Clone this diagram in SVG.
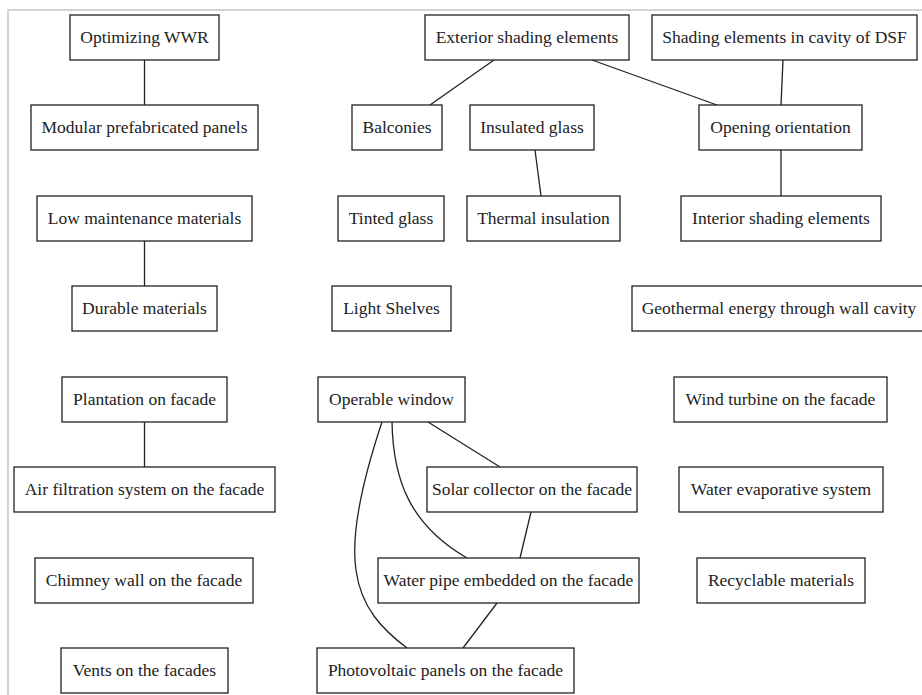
<svg xmlns="http://www.w3.org/2000/svg" width="922" height="695" viewBox="0 0 922 695">
<style>
.n rect{fill:#fff;stroke:#222;stroke-width:1.3}
.n text{font-size:17.5px;fill:#222;text-anchor:middle}
.e path{fill:none;stroke:#222;stroke-width:1.3}
</style>
<rect x="0" y="0" width="922" height="695" fill="#fff"/>
<path d="M8,695 V10 H922" fill="none" stroke="#d4d4d4" stroke-width="2"/>
<g class="e" id="edges">
<path d="M144.5,60 V105"/>
<path d="M144.5,241 V286"/>
<path d="M144.5,422 V467"/>
<path d="M494,60 L430,105"/>
<path d="M592,60 L717,105"/>
<path d="M783,60 L781,105"/>
<path d="M781,150 V196"/>
<path d="M535,150 L541,196"/>
<path d="M428,422 L500,467"/>
<path d="M392,422 C393,480 410,525 467,558"/>
<path d="M382,422 C366,470 350,530 356,570 C361,608 383,630 407,648"/>
<path d="M531,512 L520,558"/>
<path d="M497,603 L463,648"/>
</g>
<g id="nodes" font-family="Liberation Serif, serif">
<g class="n" id="n_wwr"><rect x="70" y="15" width="149" height="45"/><text x="144.5" y="43">Optimizing WWR</text></g>
<g class="n" id="n_modular"><rect x="31" y="105" width="227" height="45"/><text x="144.5" y="133">Modular prefabricated panels</text></g>
<g class="n" id="n_lowmaint"><rect x="37" y="196" width="215" height="45"/><text x="144.5" y="224">Low maintenance materials</text></g>
<g class="n" id="n_durable"><rect x="72" y="286" width="145" height="45"/><text x="144.5" y="314">Durable materials</text></g>
<g class="n" id="n_plant"><rect x="62" y="377" width="165" height="45"/><text x="144.5" y="405">Plantation on facade</text></g>
<g class="n" id="n_airfilt"><rect x="14" y="467" width="261" height="45"/><text x="144.5" y="495">Air filtration system on the facade</text></g>
<g class="n" id="n_chimney"><rect x="35" y="558" width="218" height="45"/><text x="144" y="586">Chimney wall on the facade</text></g>
<g class="n" id="n_vents"><rect x="61" y="648" width="167" height="45"/><text x="144.5" y="676">Vents on the facades</text></g>
<g class="n" id="n_ext"><rect x="425" y="15" width="204" height="45"/><text x="527" y="43">Exterior shading elements</text></g>
<g class="n" id="n_balc"><rect x="352" y="105" width="90" height="45"/><text x="397" y="133">Balconies</text></g>
<g class="n" id="n_insglass"><rect x="470" y="105" width="124" height="45"/><text x="532" y="133">Insulated glass</text></g>
<g class="n" id="n_tinted"><rect x="338" y="196" width="106" height="45"/><text x="391" y="224">Tinted glass</text></g>
<g class="n" id="n_thermal"><rect x="467" y="196" width="153" height="45"/><text x="543.5" y="224">Thermal insulation</text></g>
<g class="n" id="n_light"><rect x="332" y="286" width="119" height="45"/><text x="391.5" y="314">Light Shelves</text></g>
<g class="n" id="n_operable"><rect x="318" y="377" width="147" height="45"/><text x="391.5" y="405">Operable window</text></g>
<g class="n" id="n_solar"><rect x="427" y="467" width="210" height="45"/><text x="532" y="495">Solar collector on the facade</text></g>
<g class="n" id="n_water"><rect x="378" y="558" width="261" height="45"/><text x="508.5" y="586">Water pipe embedded on the facade</text></g>
<g class="n" id="n_pv"><rect x="317" y="648" width="257" height="45"/><text x="445.5" y="676">Photovoltaic panels on the facade</text></g>
<g class="n" id="n_dsf"><rect x="652" y="15" width="265" height="45"/><text x="784.5" y="43">Shading elements in cavity of DSF</text></g>
<g class="n" id="n_orient"><rect x="699" y="105" width="163" height="45"/><text x="780.5" y="133">Opening orientation</text></g>
<g class="n" id="n_interior"><rect x="681" y="196" width="200" height="45"/><text x="781" y="224">Interior shading elements</text></g>
<g class="n" id="n_geo"><rect x="632" y="286" width="294" height="45"/><text x="779" y="314">Geothermal energy through wall cavity</text></g>
<g class="n" id="n_wind"><rect x="674" y="377" width="213" height="45"/><text x="780.5" y="405">Wind turbine on the facade</text></g>
<g class="n" id="n_evap"><rect x="679" y="467" width="204" height="45"/><text x="781" y="495">Water evaporative system</text></g>
<g class="n" id="n_recyc"><rect x="697" y="558" width="168" height="45"/><text x="781" y="586">Recyclable materials</text></g>
</g>
</svg>
